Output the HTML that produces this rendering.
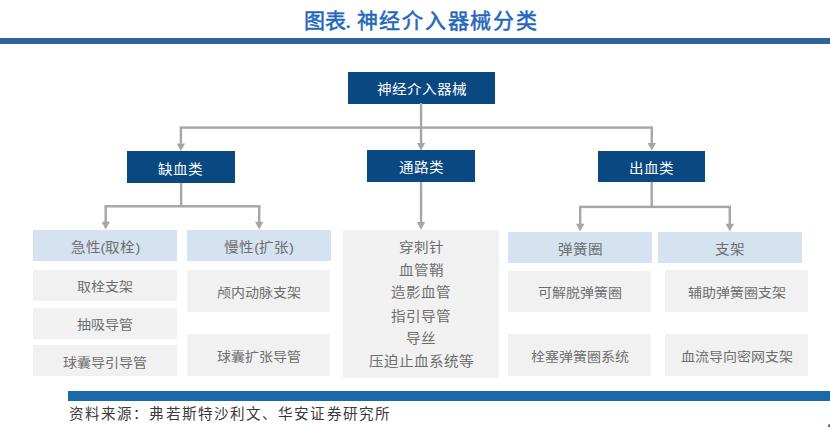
<!DOCTYPE html>
<html lang="zh-CN">
<head>
<meta charset="utf-8">
<style>
*{margin:0;padding:0;box-sizing:border-box;}
html,body{width:830px;height:427px;background:#fff;overflow:hidden;}
body{position:relative;font-family:"Liberation Sans",sans-serif;}
.a{position:absolute;}
.title{position:absolute;left:304px;top:6px;font-family:"Liberation Serif",serif;font-weight:normal;-webkit-text-stroke:0.5px #2366bd;font-size:21px;line-height:30px;color:#2366bd;letter-spacing:1.8px;white-space:nowrap;}
.topbar{position:absolute;left:0;top:38px;width:830px;height:6.4px;background:#2f6498;}
.dk{position:absolute;background:#0a4882;color:#fff;font-size:14.6px;display:flex;align-items:center;justify-content:center;white-space:nowrap;}
.lb{position:absolute;background:#d5e2ef;color:#6e6e6e;font-size:14.6px;display:flex;align-items:center;justify-content:center;white-space:nowrap;}
.gr{position:absolute;background:#f1f1f1;color:#6e6e6e;font-size:14px;display:flex;align-items:center;justify-content:center;white-space:nowrap;}
.t{display:inline-block;transform:translateY(0.9px) scaleY(0.9);}
.mid{position:absolute;background:#f1f1f1;color:#6e6e6e;font-size:14.6px;text-align:center;white-space:nowrap;}
.mt{position:absolute;left:0;right:0;top:7px;line-height:25.22px;transform-origin:0 0;transform:scaleY(0.9);}
.botbar{position:absolute;left:68px;top:391px;width:762px;height:9.5px;background:#1a6aab;}
.src{position:absolute;left:69px;top:404.3px;font-family:"Liberation Serif",serif;font-size:14.6px;letter-spacing:1.1px;line-height:20px;color:#3a3a3a;white-space:nowrap;}
</style>
</head>
<body>
<div class="title" style="left:303.5px;letter-spacing:0.5px">图表</div><div class="title" style="left:345.5px;">.</div><div class="title" style="left:356.5px;">神经介入器械分类</div>
<div class="topbar"></div>

<!-- level 1 -->
<div class="dk" style="left:348px;top:72px;width:147px;height:31.5px;"><span class="t">神经介入器械</span></div>

<!-- connectors -->
<svg class="a" style="left:0;top:0;" width="830" height="427" viewBox="0 0 830 427" fill="#a6a6a6">
<rect x="419.85" y="103.00" width="2.4" height="24.60"/>
<rect x="179.70" y="126.40" width="473.30" height="2.4"/>
<rect x="179.70" y="127.60" width="2.4" height="15.90"/>
<polygon points="176.70,143.40 185.10,143.40 180.90,150.90"/>
<rect x="419.85" y="127.60" width="2.4" height="15.50"/>
<polygon points="416.85,143.10 425.25,143.10 421.05,150.40"/>
<rect x="650.60" y="127.60" width="2.4" height="15.60"/>
<polygon points="647.60,143.10 656.00,143.10 651.80,150.50"/>
<rect x="179.90" y="182.50" width="2.4" height="23.80"/>
<rect x="104.50" y="205.10" width="155.90" height="2.4"/>
<rect x="104.50" y="206.30" width="2.4" height="16.00"/>
<polygon points="101.50,221.80 109.90,221.80 105.70,229.60"/>
<rect x="258.00" y="206.30" width="2.4" height="16.00"/>
<polygon points="255.00,221.80 263.40,221.80 259.20,229.60"/>
<rect x="419.85" y="181.50" width="2.4" height="40.80"/>
<polygon points="416.85,221.90 425.25,221.90 421.05,229.70"/>
<rect x="650.50" y="182.00" width="2.4" height="24.90"/>
<rect x="579.00" y="205.70" width="152.00" height="2.4"/>
<rect x="579.00" y="206.90" width="2.4" height="17.40"/>
<polygon points="576.00,223.80 584.40,223.80 580.20,231.60"/>
<rect x="728.60" y="206.90" width="2.4" height="17.40"/>
<polygon points="725.60,223.80 734.00,223.80 729.80,231.60"/>
</svg>

<!-- level 2 -->
<div class="dk" style="left:126.8px;top:151.4px;width:108.2px;height:31.3px;"><span class="t">缺血类</span></div>
<div class="dk" style="left:367px;top:150.2px;width:108px;height:31.6px;"><span class="t">通路类</span></div>
<div class="dk" style="left:598px;top:150.5px;width:107px;height:31.5px;"><span class="t">出血类</span></div>

<!-- level 3 headers -->
<div class="lb" style="left:33.4px;top:229.8px;width:144px;height:31px;"><span class="t">急性(取栓)</span></div>
<div class="lb" style="left:187px;top:230.3px;width:144px;height:31px;"><span class="t">慢性(扩张)</span></div>
<div class="lb" style="left:508px;top:231.8px;width:144px;height:31px;"><span class="t">弹簧圈</span></div>
<div class="lb" style="left:658px;top:231.8px;width:144px;height:31px;"><span class="t">支架</span></div>

<!-- left column -->
<div class="gr" style="left:33.3px;top:270.1px;width:143.6px;height:30.7px;"><span class="t">取栓支架</span></div>
<div class="gr" style="left:33.3px;top:307.7px;width:143.6px;height:31px;"><span class="t">抽吸导管</span></div>
<div class="gr" style="left:33.3px;top:345.3px;width:143.6px;height:31px;"><span class="t">球囊导引导管</span></div>

<div class="gr" style="left:187px;top:270.2px;width:143px;height:41.7px;"><span class="t">颅内动脉支架</span></div>
<div class="gr" style="left:187px;top:334px;width:143px;height:41.8px;"><span class="t">球囊扩张导管</span></div>

<!-- middle -->
<div class="mid" style="left:343px;top:229.7px;width:156.3px;height:147.9px;"><div class="mt">穿刺针<br>血管鞘<br>造影血管<br>指引导管<br>导丝<br>压迫止血系统等</div></div>

<!-- right -->
<div class="gr" style="left:508px;top:270.5px;width:143px;height:41.3px;"><span class="t">可解脱弹簧圈</span></div>
<div class="gr" style="left:508px;top:334.2px;width:143px;height:41.8px;"><span class="t">栓塞弹簧圈系统</span></div>
<div class="gr" style="left:665px;top:269.8px;width:143px;height:42px;"><span class="t">辅助弹簧圈支架</span></div>
<div class="gr" style="left:665px;top:333.5px;width:143px;height:42px;"><span class="t">血流导向密网支架</span></div>

<div class="botbar"></div>
<div class="a" style="left:827.5px;top:424px;width:4px;height:5px;border-radius:2px;background:#2f62a3;"></div>
<div class="src">资料来源：弗若斯特沙利文、华安证券研究所</div>
</body>
</html>
